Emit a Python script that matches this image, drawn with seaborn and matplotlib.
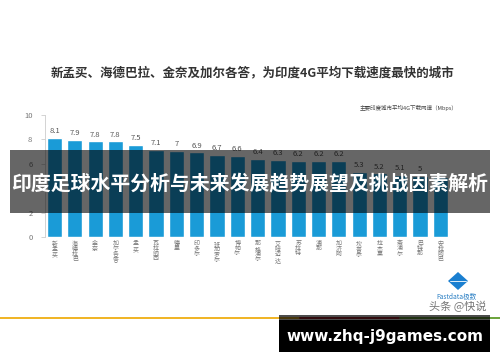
import matplotlib
matplotlib.use("Agg")
import matplotlib.pyplot as plt
import seaborn as sns
from matplotlib.patches import Rectangle, Polygon
from matplotlib.lines import Line2D

cities = ["新孟买", "海德拉巴", "金奈", "加尔各答", "孟买", "瓦拉纳西", "德里", "印多尔",
          "班加罗尔", "博帕尔", "那格浦尔", "艾哈迈达", "苏拉特", "浦那", "加济阿",
          "坎普尔", "拉杰果", "斋浦尔", "巴特那", "安拉阿巴"]
speeds = [8.1, 7.9, 7.8, 7.8, 7.5, 7.1, 7.0, 6.9, 6.7, 6.6, 6.4, 6.3, 6.2, 6.2, 6.2,
          5.3, 5.2, 5.1, 5.0, 4.9]
# the last bar's value label is hidden behind the banner in the reference
speed_labels = ["8.1", "7.9", "7.8", "7.8", "7.5", "7.1", "7", "6.9", "6.7", "6.6", "6.4",
                "6.3", "6.2", "6.2", "6.2", "5.3", "5.2", "5.1", "5", ""]
y_ticks = [0, 2, 4, 6, 8, 10]
# the "4" tick label is hidden behind the banner text in the reference
y_tick_labels = ["0", "2", "", "6", "8", "10"]

title = "新孟买、海德巴拉、金奈及加尔各答，为印度4G平均下载速度最快的城市"
subtitle = "主要印度城市平均4G下载网速（Mbps）"
banner = "印度足球水平分析与未来发展趋势展望及挑战因素解析"
site = "www.zhq-j9games.com"

sns.set_theme(style="white")
plt.rcParams["font.family"] = ["Noto Sans CJK SC", "DejaVu Sans"]

fig = plt.figure(figsize=(5.0, 3.62), dpi=100)
ax = fig.add_axes([0.09, 0.3453, 0.811, 0.3384])

sns.barplot(x=cities, y=speeds, color="#1a9bd7", width=0.75, saturation=1, ax=ax)
ax.bar_label(ax.containers[0], labels=speed_labels, padding=2, fontsize=5.5, color="#555555")

ax.set_ylim(0, 10)
ax.set_xlim(-0.47, 19.5)
ax.set_yticks(y_ticks)
ax.set_yticklabels(y_tick_labels, fontsize=5.5, color="#777777")
ax.set_xticks(range(len(cities)))
ax.set_xticklabels(["\n".join(c) for c in cities], fontsize=4.3, color="#777777", linespacing=1.0)
ax.tick_params(axis="y", length=3, width=0.6, color="#cccccc", pad=6, left=True)
ax.tick_params(axis="x", length=0, pad=3)
ax.set_xlabel("")
ax.set_ylabel("")
for s in ["top", "right", "bottom"]:
    ax.spines[s].set_visible(False)
ax.spines["left"].set_color("#cccccc")
ax.spines["left"].set_linewidth(0.6)

fig.text(0.505, 0.80, title, ha="center", va="center", fontsize=9.0, fontweight="bold", color="#333333")
fig.text(0.818, 0.703, subtitle, ha="center", va="center", fontsize=4.0, color="#444444")

# banner overlay
fig.patches.append(Rectangle((0.02, 1 - 213 / 362), 0.96, 63 / 362, transform=fig.transFigure,
                             facecolor="black", alpha=0.6, edgecolor="none", zorder=10))
fig.text(0.5, 1 - 183 / 362, banner, ha="center", va="center", fontsize=14.3, fontweight="bold",
         color="white", zorder=11)

# logo + watermark
cx, cy = 458 / 500, 1 - 281 / 362
fig.patches.append(Polygon([(cx, cy + 9 / 362), (cx + 10 / 500, cy), (cx, cy - 9 / 362), (cx - 10 / 500, cy)],
                           closed=True, transform=fig.transFigure, facecolor="#1a7fd0", edgecolor="none"))
fig.lines.append(Line2D([cx - 8 / 500, cx + 8 / 500], [cy, cy], transform=fig.transFigure, color="white", lw=0.6))
fig.text(0.913, 1 - 297 / 362, "Fastdata极数", ha="center", va="center", fontsize=4.8, color="#2a7fc4")
fig.text(0.915, 1 - 306 / 362, "头条 @快说", ha="center", va="center", fontsize=8, color="#777777")

# bottom colored line
y_line = 1 - 318 / 362
fig.lines.append(Line2D([0.0, 0.6], [y_line, y_line], transform=fig.transFigure, color="#f0b323", lw=1.4))
fig.lines.append(Line2D([0.6, 0.8], [y_line, y_line], transform=fig.transFigure, color="#a8202a", lw=1.4))
fig.lines.append(Line2D([0.8, 1.0], [y_line, y_line], transform=fig.transFigure, color="#6aa33a", lw=1.4))

# site box
fig.patches.append(Rectangle((279 / 500, 1 - 352 / 362), 211 / 500, 37 / 362, transform=fig.transFigure,
                             facecolor="black", alpha=0.7, edgecolor="none", zorder=10))
fig.patches.append(Rectangle((279 / 500, 1 - 352 / 362), 211 / 500, 32 / 362, transform=fig.transFigure,
                             facecolor="black", alpha=1.0, edgecolor="none", zorder=10))
fig.text(385 / 500, 1 - 336 / 362, site, ha="center", va="center", fontsize=11, fontweight="bold",
         color="white", zorder=11, family="DejaVu Sans")

fig.savefig("out.png", dpi=100, facecolor="white")
